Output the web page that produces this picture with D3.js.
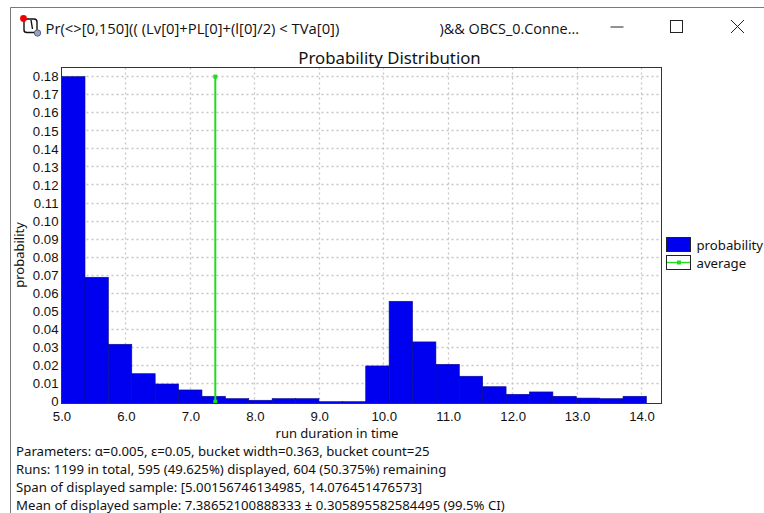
<!DOCTYPE html>
<html>
<head>
<meta charset="utf-8">
<script src="https://cdn.jsdelivr.net/npm/d3@7"></script>
<style>
  html, body { margin: 0; padding: 0; background: #fff; }
  svg { display: block; }
  text { font-family: "Noto Sans", sans-serif; fill: #111; }
  .tick text { font-family: "Liberation Sans", sans-serif; font-size: 13.2px; }
</style>
</head>
<body>
<div id="chart"></div>
<script>
// bucket heights
var probabilities = [0.18, 0.0689, 0.0318, 0.0155, 0.0098, 0.0065, 0.003, 0.0017, 0.0008, 0.0017,
  0.0017, 0, 0, 0.0198, 0.0556, 0.0331, 0.0207, 0.0141, 0.0083, 0.0041,
  0.0054, 0.003, 0.002, 0.0017, 0.003];
var bucketStart = 5.00156746134985;
var bucketWidth = 0.363;
var average = 7.38652100888333;
var averageTop = 0.18;
var xTicks = [5, 6, 7, 8, 9, 10, 11, 12, 13, 14];
var yTicks = [0, 0.01, 0.02, 0.03, 0.04, 0.05, 0.06, 0.07, 0.08, 0.09, 0.1, 0.11, 0.12, 0.13, 0.14, 0.15, 0.16, 0.17, 0.18];
var legendItems = ["probability", "average"];
var footerLines = [
  "Parameters: α=0.005, ε=0.05, bucket width=0.363, bucket count=25",
  "Runs: 1199 in total, 595 (49.625%) displayed, 604 (50.375%) remaining",
  "Span of displayed sample: [5.00156746134985, 14.076451476573]",
  "Mean of displayed sample: 7.38652100888333 ± 0.305895582584495 (99.5% CI)"
];

var width = 764;
var height = 513;
var plot = { left: 61.5, right: 661.5, top: 67.5, bottom: 403.5 };

var x = d3.scaleLinear().domain([5, 14.31]).range([plot.left, plot.right]);
// the value axis starts a little under zero, buckets still run down to the frame
var y = d3.scaleLinear().domain([-0.001, 0.18505]).range([plot.bottom, plot.top]);

var svg = d3.select("#chart").append("svg")
  .attr("width", width)
  .attr("height", height);

// window frame
svg.append("path")
  .attr("d", "M10.5,513V7.5H764")
  .attr("fill", "none")
  .attr("stroke", "#7a7a7a");

// title bar icon
var icon = svg.append("g");
icon.append("path")
  .attr("d", "M24,19H34Q37,19 37,22V31M24,19V30Q24,32.5 27,32.5H36M31,20L32.5,29")
  .attr("fill", "none")
  .attr("stroke", "#111")
  .attr("stroke-width", 1.4);
icon.append("circle").attr("cx", 37.5).attr("cy", 33).attr("r", 3.2).attr("fill", "#93a3c4").attr("stroke", "#5a6478");
icon.append("circle").attr("cx", 23.5).attr("cy", 18.5).attr("r", 3.4).attr("fill", "#f00000");

svg.append("text").attr("x", 45.5).attr("y", 33.5)
  .style("font-family", "'Open Sans', sans-serif").style("font-size", "14.8px")
  .text("Pr(<>[0,150](( (Lv[0]+PL[0]+(l[0]/2) < TVa[0])");
svg.append("text").attr("x", 439.5).attr("y", 33.5)
  .style("font-family", "'Open Sans', sans-serif").style("font-size", "14.4px")
  .text(")&& OBCS_0.Conne...");

// window buttons
svg.append("path").attr("d", "M610.5,27H623.5").attr("stroke", "#222").attr("fill", "none");
svg.append("rect").attr("x", 670.5).attr("y", 20.5).attr("width", 12).attr("height", 12)
  .attr("fill", "none").attr("stroke", "#222");
svg.append("path").attr("d", "M731,20L744,33M744,20L731,33").attr("stroke", "#222").attr("fill", "none");

svg.append("text").attr("x", 389.5).attr("y", 63.5).attr("text-anchor", "middle")
  .style("font-size", "16.8px").text("Probability Distribution");

// dotted grid, snapped to whole pixels so the dots stay crisp
function snap(v) { return Math.round(v - 0.5) + 0.5; }
svg.append("g").selectAll("line").data(xTicks.slice(1)).enter().append("line")
  .attr("x1", function(d) { return snap(x(d)); })
  .attr("x2", function(d) { return snap(x(d)); })
  .attr("y1", plot.top)
  .attr("y2", plot.bottom)
  .attr("stroke", "#c6c6c6")
  .attr("stroke-width", 1.3)
  .attr("stroke-dasharray", "2,3");
svg.append("g").selectAll("line").data(yTicks.slice(1)).enter().append("line")
  .attr("x1", plot.left)
  .attr("x2", plot.right)
  .attr("y1", function(d) { return snap(y(d)); })
  .attr("y2", function(d) { return snap(y(d)); })
  .attr("stroke", "#c6c6c6")
  .attr("stroke-width", 1.3)
  .attr("stroke-dasharray", "2,3");

// buckets
svg.append("g").selectAll("rect").data(probabilities).enter().append("rect")
  .attr("x", function(d, i) { return x(bucketStart + i * bucketWidth); })
  .attr("width", x(bucketStart + bucketWidth) - x(bucketStart))
  .attr("y", function(d) { return y(d); })
  .attr("height", function(d) { return plot.bottom - y(d); })
  .attr("fill", "#0000f0")
  .attr("stroke", "#0a0a8c")
  .attr("stroke-width", 0.6);

// average line
svg.append("line")
  .attr("x1", x(average)).attr("x2", x(average))
  .attr("y1", y(0)).attr("y2", y(averageTop))
  .attr("stroke", "#1fdc1f")
  .attr("stroke-width", 2);
svg.append("g").selectAll("rect").data([0, averageTop]).enter().append("rect")
  .attr("x", x(average) - 2)
  .attr("y", function(d) { return y(d) - 2; })
  .attr("width", 4)
  .attr("height", 4)
  .attr("fill", "#1fdc1f");

// plot frame
svg.append("rect")
  .attr("x", plot.left).attr("y", plot.top)
  .attr("width", plot.right - plot.left).attr("height", plot.bottom - plot.top)
  .attr("fill", "none")
  .attr("stroke", "#333");

// axes
var xAxis = d3.axisBottom(x).tickValues(xTicks).tickSize(0).tickPadding(8)
  .tickFormat(function(d) { return d.toFixed(1); });
var yAxis = d3.axisLeft(y).tickValues(yTicks).tickSize(0).tickPadding(3)
  .tickFormat(function(d) { return d === 0 ? "0" : d.toFixed(2); });

svg.append("g").attr("transform", "translate(0," + plot.bottom + ")").call(xAxis)
  .call(function(g) { g.select(".domain").remove(); })
  .selectAll("text").attr("fill", "#111");
svg.append("g").attr("transform", "translate(" + plot.left + ",0)").call(yAxis)
  .call(function(g) { g.select(".domain").remove(); })
  .selectAll("text").attr("fill", "#111");

svg.append("text").attr("x", 337).attr("y", 437.8).attr("text-anchor", "middle")
  .style("font-size", "13px").text("run duration in time");
svg.append("text").attr("transform", "translate(24,255) rotate(-90)").attr("text-anchor", "middle")
  .style("font-size", "13px").text("probability");

// legend
var legend = svg.append("g").selectAll("g").data(legendItems).enter().append("g")
  .attr("transform", function(d, i) { return "translate(666," + (237 + i * 18) + ")"; });
legend.append("rect")
  .attr("x", 0.5).attr("y", 0.5).attr("width", 24).attr("height", 14)
  .attr("fill", function(d, i) { return i === 0 ? "#0000f0" : "#fff"; })
  .attr("stroke", "#222");
legend.filter(function(d, i) { return i === 1; }).append("line")
  .attr("x1", 1).attr("x2", 24).attr("y1", 7.5).attr("y2", 7.5)
  .attr("stroke", "#1fdc1f").attr("stroke-width", 1.4);
legend.filter(function(d, i) { return i === 1; }).append("rect")
  .attr("x", 11).attr("y", 5.5).attr("width", 4).attr("height", 4).attr("fill", "#1fdc1f");
legend.append("text").attr("x", 30.5).attr("y", 13)
  .style("font-size", "13.2px").text(function(d) { return d; });

// footer text
svg.append("g").selectAll("text").data(footerLines).enter().append("text")
  .attr("x", 16)
  .attr("y", function(d, i) { return 455.5 + i * 18; })
  .style("font-size", "13.2px")
  .text(function(d) { return d; });
</script>
</body>
</html>
